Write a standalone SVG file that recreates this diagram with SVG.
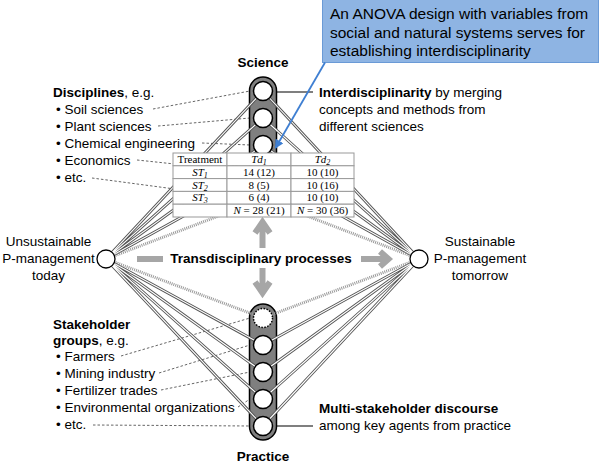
<svg xmlns="http://www.w3.org/2000/svg" xmlns:xlink="http://www.w3.org/1999/xlink" width="600" height="464" viewBox="0 0 600 464">
<defs>
<style>
text{font-family:"Liberation Sans",Arial,sans-serif;font-size:13.5px;fill:#000}
.b{font-weight:bold}
.c{text-anchor:middle}
.tt{font-family:"Liberation Serif","Times New Roman",serif;font-size:11px;text-anchor:middle}
.it{font-style:italic}
.dash{fill:none;stroke:#666;stroke-width:1;stroke-dasharray:2.5 2}
.outer{fill:none;stroke:#555;stroke-width:3}
.inner{fill:none;stroke:#fff;stroke-width:1.1}
.hatch{fill:none;stroke:#999;stroke-width:3;stroke-dasharray:1 1}
.pill{fill:#7f7f7f;stroke:#000;stroke-width:1.5}
.ci{fill:#fff;stroke:#000;stroke-width:1.5}
.dot{fill:#fff;stroke:#000;stroke-width:1.5;stroke-dasharray:1.5 1.5}
.node{fill:#fff;stroke:#000;stroke-width:1.3}
.ga{fill:none;stroke:#a6a6a6;stroke-width:6;stroke-linejoin:miter}
.cell{fill:#fff;stroke:#999;stroke-width:1}
.lead{stroke:#000;stroke-width:1.2}
</style>
<marker id="bluehead" viewBox="0 0 10 10" refX="9" refY="5" markerWidth="9" markerHeight="9" markerUnits="userSpaceOnUse" orient="auto"><path d="M0 0L10 5L0 10z" fill="#3f7fd2"/></marker>
<path id="dbl" d="M106 259L263 91M106 259L263 118M106 259L263 145M106 259L263 172M106 259L263 345M106 259L263 372M106 259L263 399M106 259L263 426M419 259L263 91M419 259L263 118M419 259L263 145M419 259L263 172M419 259L263 345M419 259L263 372M419 259L263 399M419 259L263 426"/>
</defs>
<rect width="600" height="464" fill="#fff"/>

<g id="disciplines-text">
<text x="53" y="97"><tspan class="b">Disciplines</tspan>, e.g.</text>
<text x="56" y="114">• Soil sciences</text>
<text x="56" y="131">• Plant sciences</text>
<text x="56" y="148">• Chemical engineering</text>
<text x="56" y="165">• Economics</text>
<text x="56" y="182">• etc.</text>
</g>
<g id="stakeholder-text">
<text x="53" y="329" class="b">Stakeholder</text>
<text x="53" y="345"><tspan class="b">groups</tspan>, e.g.</text>
<text x="56" y="361">• Farmers</text>
<text x="56" y="378">• Mining industry</text>
<text x="56" y="395">• Fertilizer trades</text>
<text x="56" y="412">• Environmental organizations</text>
<text x="56" y="429">• etc.</text>
</g>

<g id="pointers">
<path class="dash" d="M153 109L250 91M158 126L250 118M202 143L250 145M137 160L250 172M92 178L250 199"/>
<path class="dash" d="M121 356L250 318M159 373L250 345M161 390L250 372M238 407L250 399M93 425L250 426"/>
</g>

<g id="science-pill"><rect class="pill" x="249.5" y="77" width="27" height="136" rx="13.5"/></g>
<g id="practice-pill"><rect class="pill" x="249.5" y="304" width="27" height="136" rx="13.5"/></g>

<g id="connectors">
<use xlink:href="#dbl" class="outer"/>
<use xlink:href="#dbl" class="inner"/>
<path class="hatch" d="M106 259L263 199M419 259L263 199M106 259L263 318M419 259L263 318"/>
<line class="lead" x1="277" y1="92" x2="313" y2="92"/>
<line class="lead" x1="277" y1="426" x2="313" y2="426"/>
</g>

<g id="science-nodes">
<g id="science-1"><circle class="ci" cx="263" cy="91" r="9.5"/></g>
<g id="science-2"><circle class="ci" cx="263" cy="118" r="9.5"/></g>
<g id="science-3"><circle class="ci" cx="263" cy="145" r="9.5"/></g>
<g id="science-4"><circle class="ci" cx="263" cy="172" r="9.5"/></g>
<g id="science-5"><circle class="dot" cx="263" cy="199" r="9.5"/></g>
</g>
<g id="practice-nodes">
<g id="practice-1"><circle class="dot" cx="263" cy="318" r="9.5"/></g>
<g id="practice-2"><circle class="ci" cx="263" cy="345" r="9.5"/></g>
<g id="practice-3"><circle class="ci" cx="263" cy="372" r="9.5"/></g>
<g id="practice-4"><circle class="ci" cx="263" cy="399" r="9.5"/></g>
<g id="practice-5"><circle class="ci" cx="263" cy="426" r="9.5"/></g>
</g>

<g id="today">
<circle class="node" cx="106" cy="259" r="9"/>
<text class="c" x="48.5" y="246">Unsustainable</text>
<text class="c" x="48.5" y="263">P-management</text>
<text class="c" x="48.5" y="280">today</text>
</g>
<g id="tomorrow">
<circle class="node" cx="419" cy="259" r="9"/>
<text class="c" x="480" y="246">Sustainable</text>
<text class="c" x="480" y="263">P-management</text>
<text class="c" x="480" y="280">tomorrow</text>
</g>

<g id="table">
<rect class="cell" x="173" y="153" width="54" height="12.8"/>
<rect class="cell" x="227" y="153" width="64" height="12.8"/>
<rect class="cell" x="291" y="153" width="63" height="12.8"/>
<rect class="cell" x="173" y="165.8" width="54" height="12.8"/>
<rect class="cell" x="227" y="165.8" width="64" height="12.8"/>
<rect class="cell" x="291" y="165.8" width="63" height="12.8"/>
<rect class="cell" x="173" y="178.6" width="54" height="12.8"/>
<rect class="cell" x="227" y="178.6" width="64" height="12.8"/>
<rect class="cell" x="291" y="178.6" width="63" height="12.8"/>
<rect class="cell" x="173" y="191.4" width="54" height="12.8"/>
<rect class="cell" x="227" y="191.4" width="64" height="12.8"/>
<rect class="cell" x="291" y="191.4" width="63" height="12.8"/>
<rect class="cell" x="173" y="204.2" width="54" height="12.8"/>
<rect class="cell" x="227" y="204.2" width="64" height="12.8"/>
<rect class="cell" x="291" y="204.2" width="63" height="12.8"/>
<text class="tt" x="200" y="163">Treatment</text>
<text class="tt it" x="259" y="163">Td<tspan font-size="8" dy="2">1</tspan></text>
<text class="tt it" x="322.5" y="163">Td<tspan font-size="8" dy="2">2</tspan></text>
<text class="tt it" x="200" y="175.8">ST<tspan font-size="8" dy="2">1</tspan></text>
<text class="tt it" x="200" y="188.6">ST<tspan font-size="8" dy="2">2</tspan></text>
<text class="tt it" x="200" y="201.4">ST<tspan font-size="8" dy="2">3</tspan></text>
<text class="tt" x="259" y="175.8">14 (12)</text>
<text class="tt" x="259" y="188.6">8 (5)</text>
<text class="tt" x="259" y="201.4">6 (4)</text>
<text class="tt" x="259" y="214.2"><tspan class="it">N</tspan> = 28 (21)</text>
<text class="tt" x="322.5" y="175.8">10 (10)</text>
<text class="tt" x="322.5" y="188.6">10 (16)</text>
<text class="tt" x="322.5" y="201.4">10 (10)</text>
<text class="tt" x="322.5" y="214.2"><tspan class="it">N</tspan> = 30 (36)</text>
</g>

<g id="process-arrows">
<path class="ga" d="M262.5 248V223M255 233L262.5 222L270 233"/>
<path class="ga" d="M262.5 268V292M255 282L262.5 293L270 282"/>
<path class="ga" d="M137 259H163"/>
<path class="ga" d="M361 259H388M380 251.5L388.5 259L380 266.5"/>
<text class="b c" x="261" y="263">Transdisciplinary processes</text>
</g>

<g id="labels">
<text class="b c" x="263" y="67">Science</text>
<text class="b c" x="263" y="461">Practice</text>
<text x="319" y="97"><tspan class="b">Interdisciplinarity</tspan> by merging</text>
<text x="319" y="114">concepts and methods from</text>
<text x="319" y="131">different sciences</text>
<text x="319" y="413" class="b">Multi-stakeholder discourse</text>
<text x="319" y="430">among key agents from practice</text>
</g>

<g id="callout">
<rect x="322.5" y="-1" width="276" height="63.5" fill="#8eb4e3" stroke="#6a9ad6" stroke-width="1"/>
<text x="330" y="19" style="font-size:15.5px">An ANOVA design with variables from</text>
<text x="330" y="37.5" style="font-size:15.5px">social and natural systems serves for</text>
<text x="330" y="56" style="font-size:15.5px">establishing interdisciplinarity</text>
<line x1="325" y1="62.5" x2="275.5" y2="148" stroke="#3f7fd2" stroke-width="1.8" marker-end="url(#bluehead)"/>
</g>
</svg>
